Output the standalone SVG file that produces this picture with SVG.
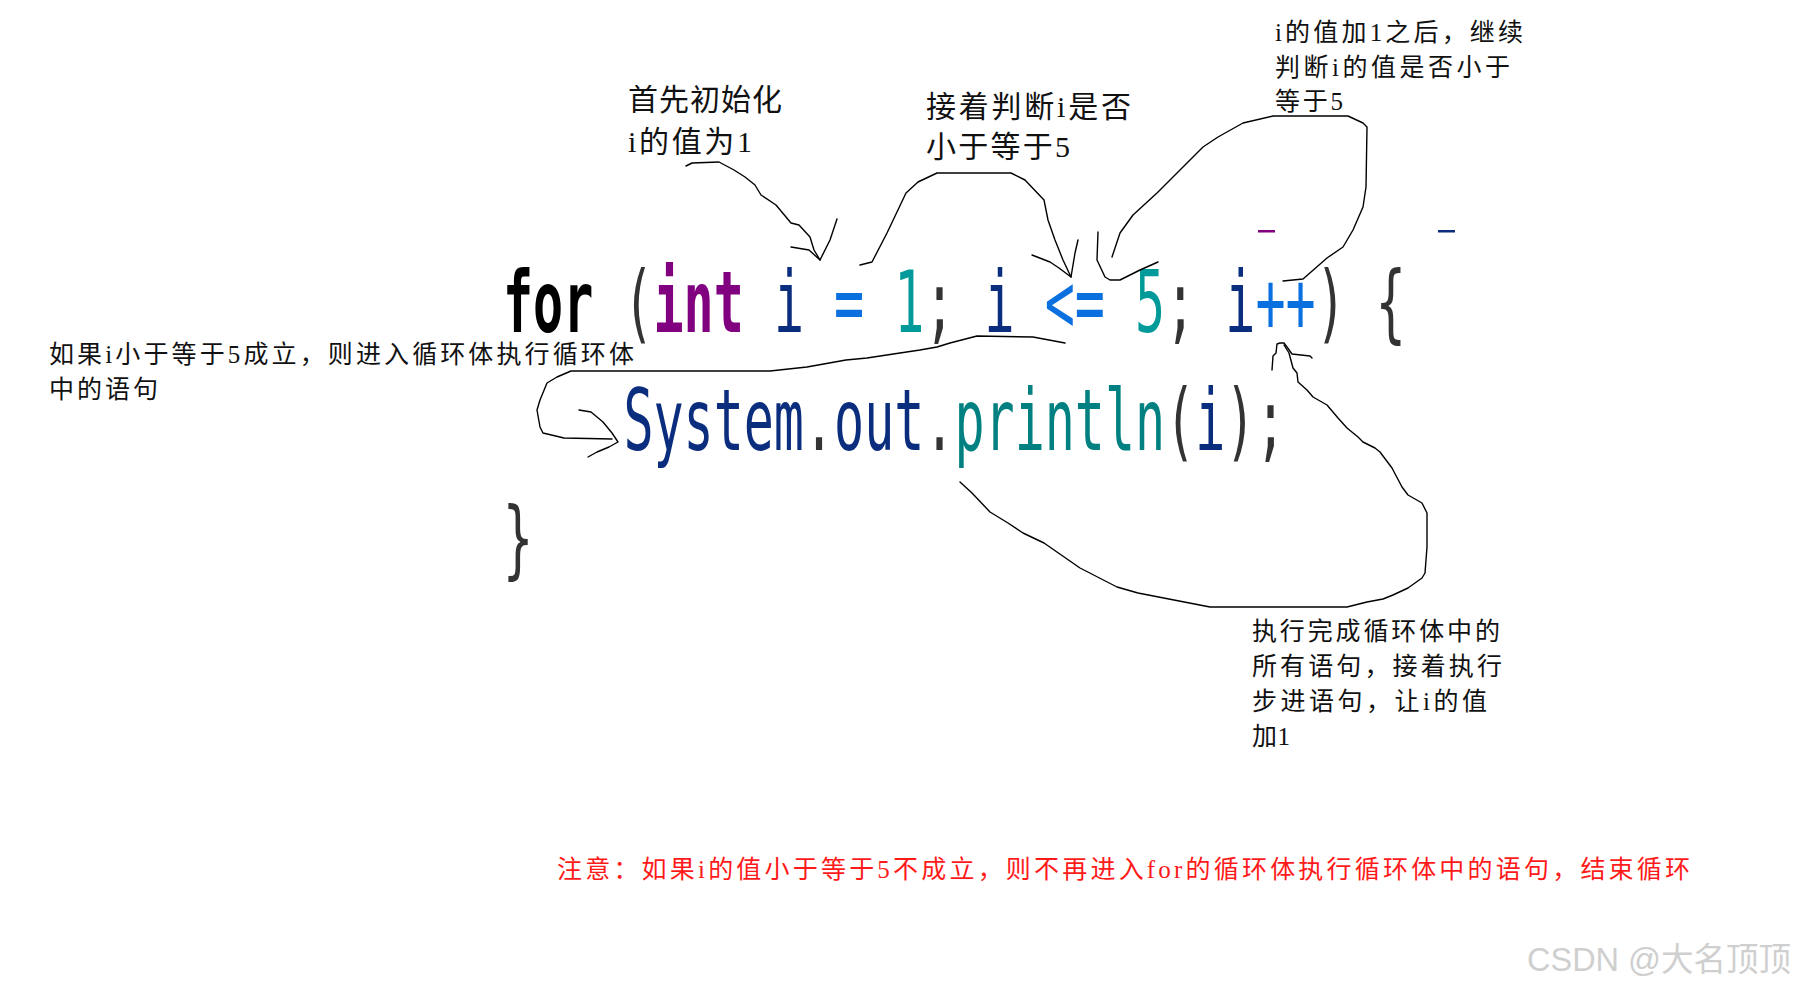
<svg xmlns="http://www.w3.org/2000/svg" width="1796" height="986" viewBox="0 0 1796 986">
<style>
.code{font-family:"DejaVu Sans Mono","Liberation Mono",monospace;font-size:86px}
.b{font-weight:bold}
.kw{fill:#000000}
.ty{fill:#800080}
.id{fill:#0b2d7e}
.op{fill:#0a70e0}
.num{fill:#009a9a}
.pn{fill:#333333}
.fn{fill:#008080}
.lbl{font-family:"Liberation Serif","Noto Sans CJK SC",serif;fill:#111111}
.red{font-family:"Liberation Serif","Noto Sans CJK SC",serif;fill:#ff1a1a}
.wm{font-family:"Liberation Sans","Noto Sans CJK SC",sans-serif;fill:#cfcfcf}
.ink{fill:none;stroke:#000000;stroke-width:1.4;stroke-linejoin:round;stroke-linecap:round}
</style>
<rect width="1796" height="986" fill="#ffffff"/>

<g id="code-line1">
<text class="code" transform="translate(503,332) scale(0.5813,1)">
<tspan class="kw b" x="0">for</tspan><tspan class="pn" x="207.1">(</tspan><tspan class="ty b" x="258.9">int</tspan><tspan class="id" x="466">i</tspan><tspan class="op" x="569.6">=</tspan><tspan class="num" x="673.1">1</tspan><tspan class="pn" x="724.9">;</tspan><tspan class="id" x="828.5">i</tspan><tspan class="op" x="932">&lt;=</tspan><tspan class="num" x="1087.4">5</tspan><tspan class="pn" x="1139.2">;</tspan><tspan class="id" x="1242.7">i</tspan><tspan class="op" x="1294.5">++</tspan><tspan class="pn" x="1398.1">)</tspan><tspan class="pn" x="1501.6">{</tspan>
</text>
<rect x="1258" y="230" width="17" height="2.5" fill="#800080"/>
<rect x="1438" y="230" width="17" height="2.5" fill="#0b2d7e"/>
</g>

<g id="code-line2">
<text class="code" transform="translate(503,450) scale(0.5813,1)">
<tspan class="id" x="207.1">System</tspan><tspan class="pn" x="517.8">.</tspan><tspan class="id" x="569.6">out</tspan><tspan class="pn" x="724.9">.</tspan><tspan class="fn" x="776.7">println</tspan><tspan class="pn" x="1139.2">(</tspan><tspan class="id" x="1191">i</tspan><tspan class="pn" x="1242.7">)</tspan><tspan class="pn" x="1294.5">;</tspan>
</text>
</g>

<g id="code-line3">
<text class="code pn" transform="translate(503,568) scale(0.5813,1)" x="0">}</text>
</g>

<g id="label-init">
<text class="lbl" font-size="30" x="628" y="110" textLength="154" lengthAdjust="spacing">首先初始化</text>
<text class="lbl" font-size="30" x="628" y="152" textLength="124" lengthAdjust="spacing">i的值为1</text>
</g>

<g id="label-condition">
<text class="lbl" font-size="30" x="926" y="117" textLength="205" lengthAdjust="spacing">接着判断i是否</text>
<text class="lbl" font-size="30" x="926" y="157" textLength="144" lengthAdjust="spacing">小于等于5</text>
</g>

<g id="label-recheck">
<text class="lbl" font-size="25" x="1275" y="41" textLength="248" lengthAdjust="spacing">i的值加1之后，继续</text>
<text class="lbl" font-size="25" x="1275" y="76" textLength="235" lengthAdjust="spacing">判断i的值是否小于</text>
<text class="lbl" font-size="25" x="1275" y="110" textLength="68" lengthAdjust="spacing">等于5</text>
</g>

<g id="label-body">
<text class="lbl" font-size="25" x="49" y="363" textLength="585" lengthAdjust="spacing">如果i小于等于5成立，则进入循环体执行循环体</text>
<text class="lbl" font-size="25" x="49" y="398" textLength="109" lengthAdjust="spacing">中的语句</text>
</g>

<g id="label-step">
<text class="lbl" font-size="25" x="1252" y="640" textLength="248" lengthAdjust="spacing">执行完成循环体中的</text>
<text class="lbl" font-size="25" x="1252" y="675" textLength="250" lengthAdjust="spacing">所有语句，接着执行</text>
<text class="lbl" font-size="25" x="1252" y="710" textLength="235" lengthAdjust="spacing">步进语句，让i的值</text>
<text class="lbl" font-size="25" x="1252" y="745" textLength="38" lengthAdjust="spacing">加1</text>
</g>

<g id="note">
<text class="red" font-size="25" x="557" y="878" textLength="1133" lengthAdjust="spacing">注意：如果i的值小于等于5不成立，则不再进入for的循环体执行循环体中的语句，结束循环</text>
</g>

<g id="watermark">
<text class="wm" font-size="33" x="1527" y="971" textLength="264" lengthAdjust="spacingAndGlyphs">CSDN @大名顶顶</text>
</g>

<g id="connectors">
<path class="ink" d="M686,166 L692,163 L719,162 L734,170 L745,177 L755,185 L761,195 L776,205 L791,223 L799,225 L810,237 L814,250 L820,260"/>
<path class="ink" d="M791,247 L809,250 L820,260 L830,240 L837,219"/>
<path class="ink" d="M860,265 L872,262 L887,233 L906,193 L918,182 L937,173 L1011,173 L1025,180 L1044,200 L1048,220 L1055,240 L1063,260 L1071,277"/>
<path class="ink" d="M1032,255 L1050,262 L1059,268 L1071,277 L1075,253 L1078,240"/>
<path class="ink" d="M1283,281 L1303,279 L1327,258 L1343,247 L1353,230 L1363,207 L1366,187 L1367,127 L1363,123 L1348,116 L1273,116 L1243,123 L1218,137 L1203,147 L1187,163 L1157,193 L1133,215 L1120,233 L1112,257"/>
<path class="ink" d="M1098,232 L1097,260 L1105,277 L1110,280 L1120,280 L1140,270 L1158,262"/>
<path class="ink" d="M1065,343 L1033,337 L977,336 L950,343 L937,347 L920,350 L900,353 L867,358 L846,360 L807,367 L770,371 L571,371 L557,377 L547,383 L540,400 L537,410 L540,427 L543,433 L564,438 L612,439"/>
<path class="ink" d="M579,410 L591,412 L603,422 L612,433 L618,442 L609,447 L597,452 L588,457"/>
<path class="ink" d="M960,482 L972,493 L990,512 L1008,523 L1023,533 L1044,543 L1080,568 L1117,587 L1138,593 L1210,607 L1230,607 L1347,607 L1367,602 L1383,599 L1393,595 L1408,588 L1422,578 L1425,573 L1427,547 L1427,513 L1422,503 L1408,495 L1402,487 L1392,468 L1380,452 L1375,448 L1363,442 L1358,437 L1347,428 L1338,418 L1327,405 L1313,397 L1307,390 L1298,382 L1297,373 L1293,368 L1289,353 L1284,345"/>
<path class="ink" d="M1272,370 L1273,356 L1276,353 L1277,344 L1280,343 L1284,343 L1287,347 L1292,354 L1310,356 L1312,358"/>
</g>
</svg>
